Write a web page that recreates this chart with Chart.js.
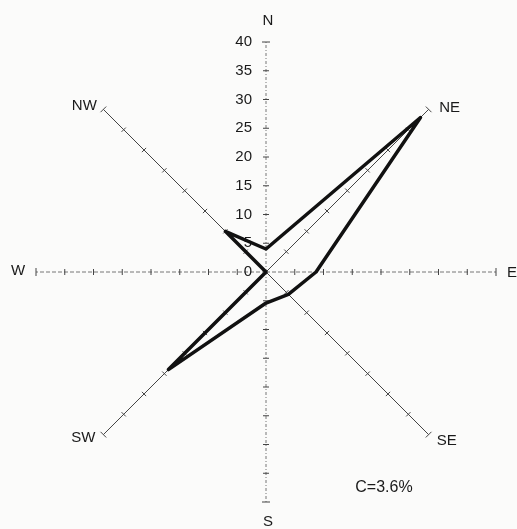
<!DOCTYPE html>
<html>
    <head>
        <meta charset="utf-8">
        <title>Wind rose</title>

        <!-- ChartJS : https://www.chartjs.org -->
        <script src="https://cdn.jsdelivr.net/npm/chart.js@4.4.1/dist/chart.umd.min.js"></script>
        <style>
            html, body { margin: 0; padding: 0; background: #fbfbfa; }
            canvas { display: block; }
        </style>
    </head>
    <body>
        <canvas id="rose" width="517" height="529"></canvas>

        <script>
            // wind direction frequencies (%)
            const directions = ['N', 'NE', 'E', 'SE', 'S', 'SW', 'W', 'NW'];
            const frequency = [4, 38, 8.7, 5.5, 5.4, 24, 0, 10];
            const tickValues = [0, 5, 10, 15, 20, 25, 30, 35, 40];
            const calm = 3.6;

            const FONT = '"Liberation Sans", Arial, sans-serif';
            const INK = '#1a1a1a';

            // label offsets from the end of each axis
            const labelOffset = [[2, -21], [21, -2], [16, 1], [18, 6], [2, 20], [-20, 3], [-18, -1], [-19, -4]];

            const roseDecor = {
                id: 'roseDecor',
                beforeDatasetsDraw(chart) {
                    const r = chart.scales.r;
                    const ctx = chart.ctx;
                    const maxVal = tickValues[tickValues.length - 1];
                    ctx.save();

                    // small ticks across every axis
                    ctx.strokeStyle = '#444';
                    ctx.lineWidth = 1;
                    ctx.setLineDash([]);
                    directions.forEach((d, i) => {
                        const a = r.getIndexAngle(i) - Math.PI / 2;
                        const nx = -Math.sin(a), ny = Math.cos(a);
                        tickValues.forEach(v => {
                            if (v === 0) return;
                            const p = r.getPointPositionForValue(i, v);
                            const h = v === maxVal ? 4 : 3;
                            ctx.beginPath();
                            ctx.moveTo(p.x - nx * h, p.y - ny * h);
                            ctx.lineTo(p.x + nx * h, p.y + ny * h);
                            ctx.stroke();
                        });
                    });

                    // value labels on the N axis
                    ctx.fillStyle = INK;
                    ctx.font = '15px ' + FONT;
                    ctx.textAlign = 'right';
                    ctx.textBaseline = 'middle';
                    tickValues.forEach(v => {
                        const p = r.getPointPositionForValue(0, v);
                        ctx.fillText(String(v), p.x - 14, p.y);
                    });

                    // direction labels
                    ctx.textAlign = 'center';
                    directions.forEach((d, i) => {
                        const p = r.getPointPositionForValue(i, maxVal);
                        ctx.fillText(d, p.x + labelOffset[i][0], p.y + labelOffset[i][1]);
                    });

                    // calm
                    ctx.font = '16px ' + FONT;
                    ctx.fillText('C=' + calm + '%', r.xCenter + 118, r.yCenter + 216);
                    ctx.restore();
                }
            };

            new Chart('rose', {
                type: 'radar',
                data: {
                    labels: directions,
                    datasets: [{
                        data: frequency,
                        borderColor: '#111',
                        borderWidth: 3.5,
                        fill: false,
                        pointRadius: 0,
                        tension: 0,
                        borderJoinStyle: 'round'
                    }]
                },
                plugins: [roseDecor],
                options: {
                    responsive: false,
                    devicePixelRatio: 1,
                    animation: false,
                    layout: { padding: { left: 36, right: 21, top: 42, bottom: 27 } },
                    plugins: { legend: { display: false }, tooltip: { enabled: false } },
                    scales: {
                        r: {
                            min: 0,
                            max: 40,
                            ticks: { display: false, stepSize: 5 },
                            grid: { display: false },
                            pointLabels: { display: false },
                            angleLines: {
                                color: ctx => ctx.index % 2 === 0 ? '#777' : '#444',
                                lineWidth: 1,
                                borderDash: ctx => ctx.index % 4 === 0 ? [3, 2, 1, 2] : (ctx.index % 2 === 0 ? [4, 2] : [])
                            }
                        }
                    }
                }
            });
        </script>
    </body>
</html>
